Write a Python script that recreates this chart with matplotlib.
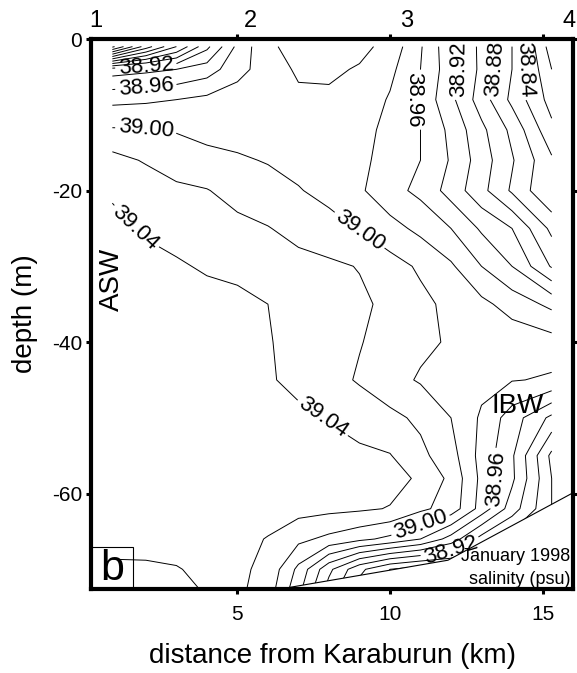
#!/usr/bin/env python3
from __future__ import annotations

import matplotlib

matplotlib.use("Agg")
import matplotlib.pyplot as plt
import numpy as np
from matplotlib.patches import Polygon, Rectangle

# section grid: distance from Karaburun (km) and depth (m)
DISTANCE_KM = [0.9, 2, 3, 4, 5, 6, 7, 8, 9, 10, 11, 12, 13, 14, 15.3]
DEPTH_M = [-1, -4, -8, -12, -16, -20, -25, -30, -35, -40, -45, -50, -55, -58, -62, -66, -70, -73]

# salinity (psu), one row per depth, one column per distance
SALINITY = [
    [38.735, 38.81, 38.86, 38.915, 38.965, 38.997, 39.006, 39.008, 39.006, 38.993, 38.962, 38.925, 38.895, 38.86, 38.79],
    [38.93, 38.935, 38.94, 38.95, 38.973, 38.99, 39.003, 39.004, 38.998, 38.985, 38.96, 38.928, 38.895, 38.86, 38.80],
    [38.975, 38.977, 38.98, 38.985, 38.99, 38.994, 38.996, 38.996, 38.993, 38.978, 38.955, 38.925, 38.89, 38.855, 38.812],
    [39.002, 39.001, 38.999, 38.996, 38.994, 38.993, 38.992, 38.991, 38.99, 38.972, 38.96, 38.935, 38.905, 38.875, 38.825],
    [39.027, 39.018, 39.008, 39.004, 39.002, 38.999, 38.995, 38.992, 38.985, 38.972, 38.96, 38.938, 38.91, 38.882, 38.843],
    [39.038, 39.032, 39.025, 39.021, 39.012, 39.006, 39.001, 38.995, 38.983, 38.967, 38.955, 38.932, 38.906, 38.877, 38.84],
    [39.044, 39.038, 39.034, 39.03, 39.026, 39.021, 39.013, 39.006, 38.999, 38.987, 38.975, 38.96, 38.937, 38.92, 38.875],
    [39.048, 39.045, 39.042, 39.038, 39.037, 39.03, 39.027, 39.024, 39.019, 39.008, 38.997, 38.983, 38.96, 38.94, 38.898],
    [39.05, 39.05, 39.048, 39.046, 39.043, 39.04, 39.035, 39.03, 39.024, 39.015, 39.005, 38.995, 38.985, 38.972, 38.955],
    [39.05, 39.05, 39.05, 39.048, 39.046, 39.041, 39.035, 39.028, 39.021, 39.013, 39.004, 38.998, 38.995, 38.992, 38.988],
    [39.052, 39.052, 39.05, 39.048, 39.046, 39.042, 39.035, 39.027, 39.018, 39.007, 38.998, 38.993, 38.986, 38.981, 38.978],
    [39.052, 39.052, 39.051, 39.05, 39.049, 39.047, 39.044, 39.039, 39.032, 39.025, 39.016, 39.0, 38.977, 38.95, 38.915],
    [39.052, 39.052, 39.051, 39.05, 39.05, 39.049, 39.048, 39.046, 39.044, 39.041, 39.025, 39.008, 38.973, 38.943, 38.875],
    [39.052, 39.052, 39.051, 39.05, 39.05, 39.05, 39.049, 39.048, 39.047, 39.047, 39.037, 39.015, 38.975, 38.944, 38.88],
    [39.05, 39.05, 39.05, 39.05, 39.05, 39.049, 39.047, 39.045, 39.043, 39.039, 39.024, 39.012, 38.972, 38.93, 38.88],
    [39.046, 39.047, 39.047, 39.047, 39.046, 39.039, 39.025, 39.015, 39.005, 38.995, 38.98, 38.952, 38.912, 38.89, 38.88],
    [39.037, 39.037, 39.039, 39.044, 39.044, 39.035, 38.995, 38.945, 38.905, 38.88, 38.87, 38.87, 38.87, 38.875, 38.88],
    [39.03, 39.032, 39.035, 39.041, 39.044, 39.03, 38.985, 38.93, 38.89, 38.87, 38.87, 38.87, 38.87, 38.87, 38.88],
]

# sea floor along the section
BOTTOM_KM = [6.4, 11.9, 16.0]
BOTTOM_DEPTH_M = [-72.6, -68.8, -59.9]

STATIONS = ["1", "2", "3", "4"]
STATION_KM = [0.35, 5.43, 10.56, 15.87]

X_TICKS = [5, 10, 15]
Y_TICKS = [0, -20, -40, -60]

# where each labelled isohaline carries its value
LABEL_SPOTS = {
    38.84: [(14.3, -5.4)],
    38.88: [(13.26, -5.4)],
    38.92: [(2.0, -4.0), (12.3, -5.7), (11.7, -67.0)],
    38.96: [(2.0, -6.9), (10.9, -7.0), (13.5, -56.9)],
    39.00: [(1.97, -11.7), (9.4, -26.7), (11.1, -64.2)],
    39.04: [(1.38, -23.9), (7.4, -49.4)],
}


def snap_to_level(ax, cs, value: float, x: float, y: float) -> tuple:
    # nearest vertex (in screen space) of the wanted isohaline
    idx = int(np.argmin(np.abs(np.asarray(cs.levels) - value)))
    target = ax.transData.transform((x, y))
    best, best_d = (x, y), np.inf
    for seg in cs.allsegs[idx]:
        if len(seg) == 0:
            continue
        pts = ax.transData.transform(seg)
        d = np.hypot(pts[:, 0] - target[0], pts[:, 1] - target[1])
        k = int(np.argmin(d))
        if d[k] < best_d:
            best_d = d[k]
            best = (float(seg[k, 0]), float(seg[k, 1]))
    return best


def draw(out_path: str) -> None:
    plt.rcParams["font.family"] = ["Liberation Sans", "DejaVu Sans"]
    plt.rcParams["axes.unicode_minus"] = False

    fig = plt.figure(figsize=(5.77, 6.73), dpi=100)
    ax = fig.add_axes([0.1577, 0.1248, 0.8354, 0.8172])
    ax.set_xlim(0.2, 16.0)
    ax.set_ylim(-72.6, 0)

    sal = np.array(SALINITY)
    levels = np.round(np.arange(38.70, 39.07, 0.02), 2)
    cs = ax.contour(DISTANCE_KM, DEPTH_M, sal, levels=levels, colors="black", linewidths=0.7)

    # hide everything below the sea floor
    floor = Polygon(
        [(0.0, 1.0), (16.5, 1.0), (16.5, BOTTOM_DEPTH_M[-1])]
        + list(zip(BOTTOM_KM[::-1], BOTTOM_DEPTH_M[::-1]))
        + [(0.0, BOTTOM_DEPTH_M[0])],
        closed=True,
        transform=ax.transData,
        facecolor="none",
        edgecolor="none",
    )
    ax.add_patch(floor)
    cs.set_clip_path(floor)
    ax.plot(BOTTOM_KM, BOTTOM_DEPTH_M, color="black", lw=0.8)

    spots = [snap_to_level(ax, cs, value, x, y)
             for value, pts in LABEL_SPOTS.items() for x, y in pts]
    ax.clabel(cs, manual=spots, inline=True, inline_spacing=3,
              fmt="%.2f", fontsize=16, colors="black")

    ax.set_xticks(X_TICKS)
    ax.set_yticks(Y_TICKS)
    ax.tick_params(axis="both", direction="out", length=3.5, width=2.2, labelsize=15,
                   top=True, right=True, labeltop=False, labelright=False)
    ax.tick_params(axis="x", pad=8)
    ax.tick_params(axis="y", pad=3)
    for spine in ax.spines.values():
        spine.set_linewidth(3)

    ax.set_xlabel("distance from Karaburun (km)", fontsize=20, labelpad=14)
    ax.set_ylabel("depth (m)", fontsize=20, labelpad=10)

    for name, km in zip(STATIONS, STATION_KM):
        ax.text(km, 1.033, name, transform=ax.get_xaxis_transform(), fontsize=17,
                ha="center", va="center", clip_on=False)

    ax.text(0.89, -31.7, "ASW", rotation=90, fontsize=20, ha="center", va="center")
    ax.text(14.18, -48.5, "IBW", fontsize=20, ha="center", va="center")

    ax.add_patch(Rectangle((0, 0), 0.087, 0.076, transform=ax.transAxes,
                           facecolor="none", edgecolor="black", lw=0.8))
    ax.text(0.0435, 0.036, "b", transform=ax.transAxes, fontsize=31, ha="center", va="center")

    ax.text(0.995, 0.06, "January 1998", transform=ax.transAxes, fontsize=13, ha="right", va="center")
    ax.text(0.995, 0.018, "salinity (psu)", transform=ax.transAxes, fontsize=13, ha="right", va="center")

    fig.savefig(out_path, dpi=100)
    plt.close(fig)


def main() -> None:
    draw("out.png")


if __name__ == "__main__":
    main()
